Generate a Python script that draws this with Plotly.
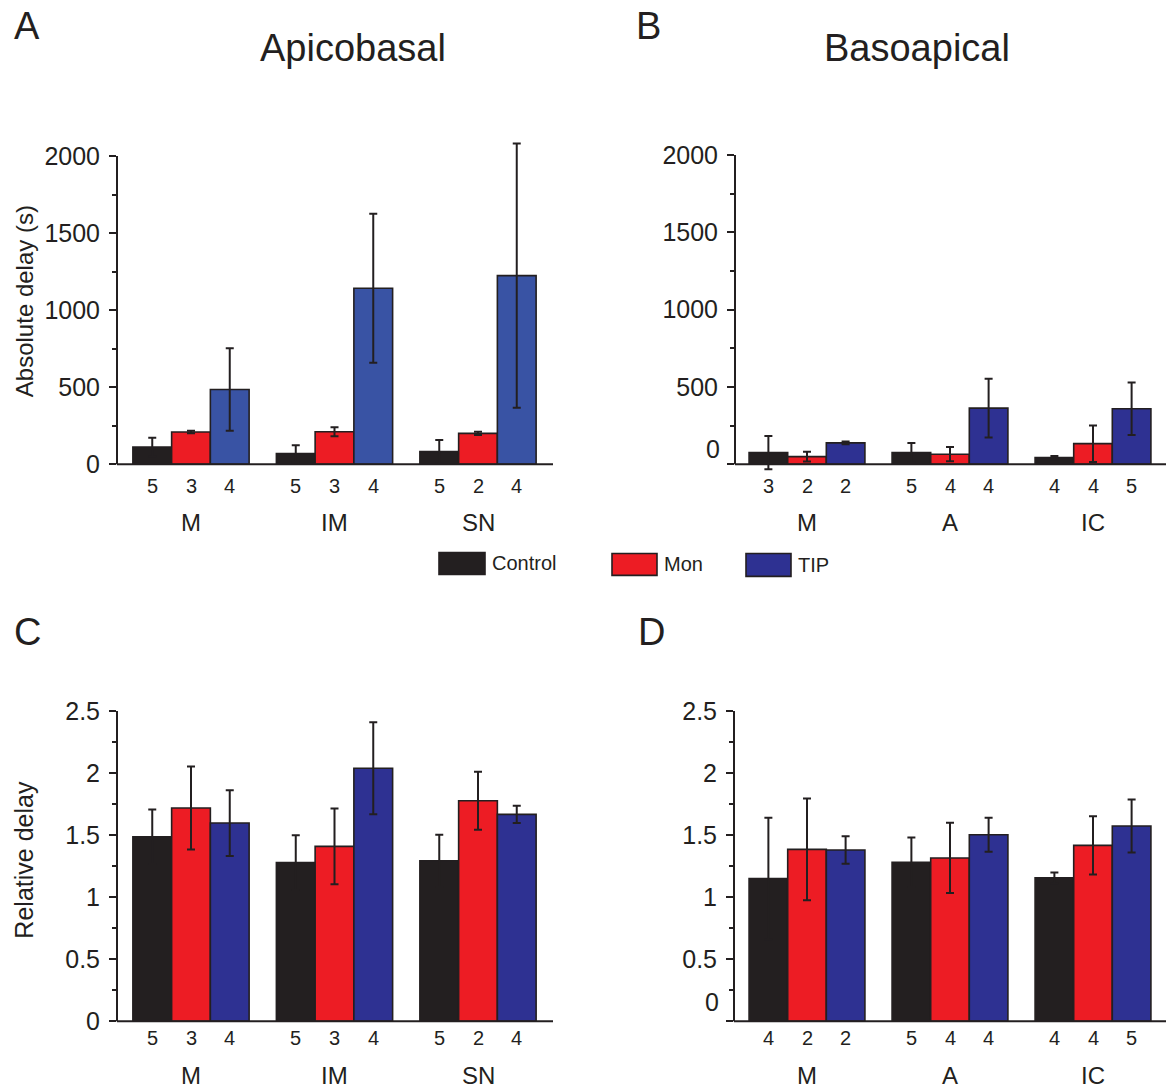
import plotly.graph_objects as go

# ---------------- data ----------------
series = ["Control", "Mon", "TIP"]
groups_api = ["M", "IM", "SN"]
groups_baso = ["M", "A", "IC"]

# Panel A: absolute delay (s), apicobasal
abs_api_control = [112, 69, 82]
abs_api_mon = [209, 211, 200]
abs_api_tip = [485, 1142, 1224]
abs_api_control_err = [60, 54, 75]
abs_api_mon_err = [8, 29, 10]
abs_api_tip_err = [268, 484, 857]

# Panel B: absolute delay (s), basoapical
abs_baso_control = [75, 75, 43]
abs_baso_mon = [49, 65, 133]
abs_baso_tip = [138, 363, 359]
abs_baso_control_err = [107, 62, 11]
abs_baso_mon_err = [31, 46, 118]
abs_baso_tip_err = [9, 190, 170]

# Panel C: relative delay, apicobasal
rel_api_control = [1.487, 1.278, 1.292]
rel_api_mon = [1.718, 1.409, 1.777]
rel_api_tip = [1.597, 2.039, 1.667]
rel_api_control_err = [0.22, 0.22, 0.21]
rel_api_mon_err = [0.335, 0.305, 0.234]
rel_api_tip_err = [0.265, 0.37, 0.07]

# Panel D: relative delay, basoapical
rel_baso_control = [1.15, 1.281, 1.155]
rel_baso_mon = [1.385, 1.316, 1.417]
rel_baso_tip = [1.38, 1.503, 1.573]
rel_baso_control_err = [0.49, 0.2, 0.043]
rel_baso_mon_err = [0.41, 0.283, 0.235]
rel_baso_tip_err = [0.11, 0.137, 0.213]

# sample sizes (per series, per group)
n_api_control = [5, 5, 5]
n_api_mon = [3, 3, 2]
n_api_tip = [4, 4, 4]
n_baso_abs_control = [3, 5, 4]
n_baso_abs_mon = [2, 4, 4]
n_baso_abs_tip = [2, 4, 5]
n_baso_rel_control = [4, 5, 4]
n_baso_rel_mon = [2, 4, 4]
n_baso_rel_tip = [2, 4, 5]

abs_ticks = [0, 500, 1000, 1500, 2000]
abs_minor = [250, 750, 1250, 1750]
rel_ticks = [0, 0.5, 1, 1.5, 2, 2.5]
rel_minor = [0.25, 0.75, 1.25, 1.75, 2.25]

titles = ["Apicobasal", "Basoapical"]
panel_letters = ["A", "B", "C", "D"]
ytitles = ["Absolute delay (s)", "Relative delay"]

# ---------------- style ----------------
W, H = 1169, 1090
FONT = "Liberation Sans, Arial, Helvetica, sans-serif"
DARK = "#231f20"
RED = "#ed1c24"
NAVY = "#2e3192"
BLUE_A = "#3953a4"
BAR_W = 0.27
OFFS = [-0.27, 0.0, 0.27]


def px2x(px):
    return px / W


def px2y(py):
    return 1 - py / H


panels = [
    dict(name="A", groups=groups_api,
         means=[abs_api_control, abs_api_mon, abs_api_tip],
         errs=[abs_api_control_err, abs_api_mon_err, abs_api_tip_err],
         ns=[n_api_control, n_api_mon, n_api_tip],
         colors=[DARK, RED, BLUE_A],
         xl=117, xr=553, c0=191, sx=143.5, y0=463.5, sy=309 / 2000,
         ylo=-130, yhi=2160, ytop=2000, ticks=abs_ticks, minor=abs_minor,
         zero_shift=False, nlab_y=485, glab_y=522, tickfmt=lambda v: str(v)),
    dict(name="B", groups=groups_baso,
         means=[abs_baso_control, abs_baso_mon, abs_baso_tip],
         errs=[abs_baso_control_err, abs_baso_mon_err, abs_baso_tip_err],
         ns=[n_baso_abs_control, n_baso_abs_mon, n_baso_abs_tip],
         colors=[DARK, RED, NAVY],
         xl=735, xr=1166, c0=807, sx=143, y0=463.5, sy=310 / 2000,
         ylo=-130, yhi=2160, ytop=2000, ticks=abs_ticks, minor=abs_minor,
         zero_shift=True, zero_y=448, nlab_y=485, glab_y=522, tickfmt=lambda v: str(v)),
    dict(name="C", groups=groups_api,
         means=[rel_api_control, rel_api_mon, rel_api_tip],
         errs=[rel_api_control_err, rel_api_mon_err, rel_api_tip_err],
         ns=[n_api_control, n_api_mon, n_api_tip],
         colors=[DARK, RED, NAVY],
         xl=117, xr=553, c0=191, sx=143.5, y0=1022, sy=311 / 2.5,
         ylo=-0.1, yhi=2.6, ytop=2.5, ticks=rel_ticks, minor=rel_minor,
         zero_shift=False, nlab_y=1039, glab_y=1076, tickfmt=lambda v: f"{v:g}"),
    dict(name="D", groups=groups_baso,
         means=[rel_baso_control, rel_baso_mon, rel_baso_tip],
         errs=[rel_baso_control_err, rel_baso_mon_err, rel_baso_tip_err],
         ns=[n_baso_rel_control, n_baso_rel_mon, n_baso_rel_tip],
         colors=[DARK, RED, NAVY],
         xl=734, xr=1166, c0=807, sx=143, y0=1022, sy=311 / 2.5,
         ylo=-0.1, yhi=2.6, ytop=2.5, ticks=rel_ticks, minor=rel_minor,
         zero_shift=True, zero_y=1003, nlab_y=1039, glab_y=1076, tickfmt=lambda v: f"{v:g}"),
]

fig = go.Figure()
shapes = []
annotations = []
layout_axes = {}

for i, p in enumerate(panels):
    k = i + 1
    xa = "x" if k == 1 else f"x{k}"
    ya = "y" if k == 1 else f"y{k}"
    for s in range(3):
        fig.add_trace(go.Bar(
            x=[g + OFFS[s] for g in range(len(p["groups"]))],
            y=p["means"][s],
            width=BAR_W,
            name=series[s],
            showlegend=False,
            marker=dict(color=p["colors"][s], line=dict(color=DARK, width=1.6)),
            error_y=dict(type="data", array=p["errs"][s], color=DARK,
                         thickness=2, width=4),
            xaxis=xa, yaxis=ya,
        ))
    xr0 = (p["xl"] - p["c0"]) / p["sx"]
    xr1 = (p["xr"] - p["c0"]) / p["sx"]
    ybot_px = p["y0"] - p["ylo"] * p["sy"]
    ytop_px = p["y0"] - p["yhi"] * p["sy"]
    layout_axes["xaxis" if k == 1 else f"xaxis{k}"] = dict(
        domain=[px2x(p["xl"]), px2x(p["xr"])], range=[xr0, xr1],
        anchor=ya, visible=False, fixedrange=True)
    ticktext = [("" if (p["zero_shift"] and v == 0) else p["tickfmt"](v)) for v in p["ticks"]]
    layout_axes["yaxis" if k == 1 else f"yaxis{k}"] = dict(
        domain=[px2y(ybot_px), px2y(ytop_px)], range=[p["ylo"], p["yhi"]],
        anchor=xa, showline=False, showgrid=False, zeroline=False,
        tickmode="array", tickvals=p["ticks"], ticktext=ticktext,
        ticks="outside", ticklen=7, tickwidth=1.8, tickcolor=DARK,
        tickfont=dict(family=FONT, size=25, color=DARK),
        minor=dict(tickvals=p["minor"], ticks="outside", ticklen=4,
                   tickwidth=1.6, tickcolor=DARK),
        ticklabelstandoff=4, fixedrange=True)
    # axis lines
    shapes.append(dict(type="line", xref=f"{xa} domain", yref=ya,
                       x0=0, x1=0, y0=0, y1=p["ytop"],
                       line=dict(color=DARK, width=2)))
    shapes.append(dict(type="line", xref=f"{xa} domain", yref=ya,
                       x0=0, x1=1, y0=0, y1=0,
                       line=dict(color=DARK, width=2)))
    if p["zero_shift"]:
        annotations.append(dict(text="0", xref="paper", yref="paper",
                                x=px2x(p["xl"] - 13), y=px2y(p["zero_y"]),
                                xanchor="right", yanchor="middle", showarrow=False,
                                font=dict(family=FONT, size=25, color=DARK)))
    # n labels under bars
    for s in range(3):
        for g in range(len(p["groups"])):
            annotations.append(dict(text=str(p["ns"][s][g]), xref=xa, yref="paper",
                                    x=g + OFFS[s], y=px2y(p["nlab_y"]),
                                    xanchor="center", yanchor="middle", showarrow=False,
                                    font=dict(family=FONT, size=20, color=DARK)))
    # group labels
    for g, name in enumerate(p["groups"]):
        annotations.append(dict(text=name, xref=xa, yref="paper",
                                x=g, y=px2y(p["glab_y"]),
                                xanchor="center", yanchor="middle", showarrow=False,
                                font=dict(family=FONT, size=24, color=DARK)))

# panel letters
letter_pos = [(12, 24), (634, 24), (12, 632), (636, 632)]
for L, (lx, ly) in zip(panel_letters, letter_pos):
    annotations.append(dict(text=L, xref="paper", yref="paper", x=px2x(lx), y=px2y(ly),
                            xanchor="left", yanchor="middle", showarrow=False,
                            font=dict(family=FONT, size=38, color=DARK)))

# titles
for t, tx in zip(titles, [353, 917]):
    annotations.append(dict(text=t, xref="paper", yref="paper", x=px2x(tx), y=px2y(46),
                            xanchor="center", yanchor="middle", showarrow=False,
                            font=dict(family=FONT, size=38, color=DARK)))

# y-axis titles
for t, (tx, ty, fs) in zip(ytitles, [(24, 300, 24), (24, 860, 25)]):
    annotations.append(dict(text=t, xref="paper", yref="paper", x=px2x(tx), y=px2y(ty),
                            xanchor="center", yanchor="middle", showarrow=False, textangle=-90,
                            font=dict(family=FONT, size=fs, color=DARK)))

# legend
legend_colors = [DARK, RED, NAVY]
legend_boxes = [(439, 485, 552, 574), (612, 657, 553, 575), (746, 791, 553, 576)]
for s, (c, (bx0, bx1, by0, by1)) in enumerate(zip(legend_colors, legend_boxes)):
    shapes.append(dict(type="rect", xref="paper", yref="paper",
                       x0=px2x(bx0), x1=px2x(bx1), y0=px2y(by1), y1=px2y(by0),
                       fillcolor=c, line=dict(color=DARK, width=1.6)))
    annotations.append(dict(text=series[s], xref="paper", yref="paper",
                            x=px2x(bx1 + 5), y=px2y((by0 + by1) / 2),
                            xanchor="left", yanchor="middle", showarrow=False,
                            font=dict(family=FONT, size=20, color=DARK)))

fig.update_layout(
    width=W, height=H, autosize=False,
    margin=dict(l=0, r=0, t=0, b=0, pad=0),
    paper_bgcolor="white", plot_bgcolor="rgba(0,0,0,0)",
    barmode="overlay",
    showlegend=False,
    shapes=shapes, annotations=annotations,
    font=dict(family=FONT, color=DARK),
    **layout_axes,
)

fig.write_html("out.html", config={"displayModeBar": False},
               post_script="document.body.style.margin='0';document.body.style.overflow='hidden';")
